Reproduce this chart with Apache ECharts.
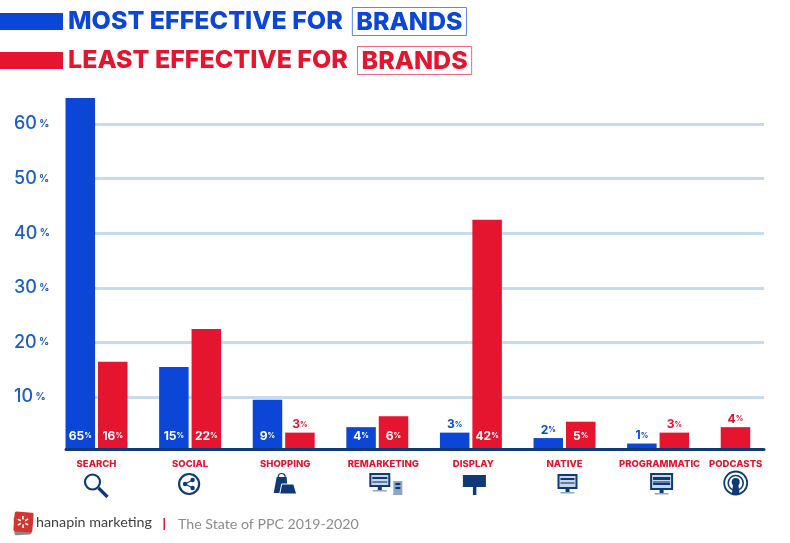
<!DOCTYPE html>
<html><head><meta charset="utf-8">
<style>html,body{margin:0;padding:0;background:#fff}#c{width:790px;height:543px}</style>
<script src="https://cdn.jsdelivr.net/npm/echarts@6/dist/echarts.min.js"></script>
</head><body><div id="c"></div>
<script>
const categories = ['SEARCH','SOCIAL','SHOPPING','REMARKETING','DISPLAY','NATIVE','PROGRAMMATIC','PODCASTS'];
const mostEffective = [65,15,9,4,3,2,1,null];
const leastEffective = [16,22,3,6,42,5,3,4];
const yTicks = [10,20,30,40,50,60];
const BLUE='#0b46d6', RED='#e5142f', NAVY='#0f3a75';
const INSIDE_MIN = 4; // labels of bars at least this tall sit inside, except the lone podcasts bar
const chart = echarts.init(document.getElementById('c'),null,{renderer:'canvas'});
const F='Inter, "Liberation Sans", sans-serif';

const labelRich={wn:{color:'#fff',fontFamily:F,fontWeight:700,fontSize:12},wp:{color:'#fff',fontFamily:F,fontWeight:700,fontSize:7.5},
  bn:{color:BLUE,fontFamily:F,fontWeight:700,fontSize:12},bp:{color:BLUE,fontFamily:F,fontWeight:700,fontSize:7.5},
  rn:{color:RED,fontFamily:F,fontWeight:700,fontSize:12},rp:{color:RED,fontFamily:F,fontWeight:700,fontSize:7.5}};
function labelFor(v,inside,key){
  const k=inside?'w':key;
  return {show:true,position:inside?'insideBottom':'top',distance:inside?7:2,rich:labelRich,formatter:`{${k}n|${v}}{${k}p|%}`};
}
const blueData = mostEffective.map((v,i)=>{
  if(v===null){ // lone bar occupies the first slot of its group, in the second colour
    const w=leastEffective[i];
    return {value:w,itemStyle:{color:RED},label:labelFor(w,false,'r')};
  }
  return {value:v,label:labelFor(v,v>=INSIDE_MIN,'b')};
});
const redData = leastEffective.map((v,i)=>{
  if(mostEffective[i]===null) return {value:null};
  return {value:v,label:labelFor(v,v>=INSIDE_MIN,'r')};
});

function legend(name,color,border,top){
  return {data:[{name}],left:0,top,padding:0,itemWidth:63,itemHeight:17,itemGap:0,icon:'rect',selectedMode:false,
    formatter:n=>`{t|${n}}  {b|BRANDS}`,
    textStyle:{rich:{
      t:{color,fontFamily:F,fontWeight:800,fontSize:25,padding:[0,3,0,0]},
      b:{color,fontFamily:F,fontWeight:800,fontSize:25,borderColor:border,borderWidth:1,padding:[2,4,1,4]}
    }}};
}

// Small horizontal nudges of individual category captions and icons
const captionShift={SHOPPING:1.5,REMARKETING:6,DISPLAY:2.5,PROGRAMMATIC:1.5,PODCASTS:-16};
const iconShift={REMARKETING:2,NATIVE:2,PROGRAMMATIC:3,PODCASTS:-16};
const captionRich={};
categories.forEach((c,i)=>{
  const s=captionShift[c]||0;
  captionRich['c'+i]={color:RED,fontFamily:F,fontWeight:800,fontSize:9.5,
    padding:[0,s<0?-2*s:0,0,s>0?2*s:0]};
});

chart.setOption({
  animation:false,backgroundColor:'#fff',
  legend:[legend('MOST EFFECTIVE FOR',BLUE,'#5f86e8',7),legend('LEAST EFFECTIVE FOR',RED,'#ee6a7c',46)],
  grid:[
    {left:66,right:26,top:124,bottom:91.4},
    {left:49.7,width:748.8,top:98,bottom:94,outerBoundsMode:'none'}
  ],
  xAxis:[
    {gridIndex:0,type:'value',min:0,max:1,offset:-2,z:5,splitLine:{show:false},axisTick:{show:false},axisLabel:{show:false},
     axisLine:{show:true,onZero:false,lineStyle:{color:NAVY,width:3}}},
    {gridIndex:1,type:'category',data:categories,axisLine:{show:false},axisTick:{show:false},
     axisLabel:{interval:0,margin:10.5,hideOverlap:false,
       formatter:(v,i)=>`{c${i}|${v}}`,rich:captionRich}}
  ],
  yAxis:[
    {gridIndex:0,type:'value',min:0,max:60,interval:10,
     axisLine:{show:false},axisTick:{show:false},
     splitLine:{show:true,showMinLine:false,lineStyle:{color:'#c5dbef',width:3}},
     axisLabel:{margin:52,align:'left',
       formatter:v=>yTicks.includes(v)?`{n|${v}}{p| %}`:'',
       rich:{n:{color:'#1c5fc4',fontFamily:F,fontSize:18,fontWeight:500},p:{color:'#1c5fc4',fontFamily:F,fontSize:10,fontWeight:700}}}},
    {gridIndex:1,type:'value',min:0,max:64.3,show:false}
  ],
  series:[
    {name:'MOST EFFECTIVE FOR',type:'bar',xAxisIndex:1,yAxisIndex:1,barWidth:29.5,barGap:'10%',itemStyle:{color:BLUE},data:blueData,z:3},
    {name:'LEAST EFFECTIVE FOR',type:'bar',xAxisIndex:1,yAxisIndex:1,barWidth:29.5,barGap:'10%',itemStyle:{color:RED},data:redData,z:3}
  ]
});

// Icon row and footer artwork
const ln=(x1,y1,x2,y2,w,c)=>({type:'line',shape:{x1,y1,x2,y2},style:{stroke:c||NAVY,lineWidth:w||2}});
const rc=(x,y,width,height,c)=>({type:'rect',shape:{x,y,width,height},style:{fill:c||NAVY}});
const ci=(cx,cy,r,w,fill)=>({type:'circle',shape:{cx,cy,r},style:fill?{fill:fill}:{fill:'none',stroke:NAVY,lineWidth:w||2}});
const screen=(x,y,w,h)=>[rc(x,y,w,h),rc(x+2,y+2,w-4,h-4,'#c9d6e6'),rc(x+3,y+4,w-6,2),rc(x+3,y+8,w-6,2,'#5f7fa8'),
  rc(x+w/2-2,y+h,4,3),rc(x+w/2-7,y+h+3,14,1.5,'#8ea6c4')];
const icons={
  SEARCH:[ci(-4,-2,7.5,2.2),ln(2,4,11,13,3.2)],
  SOCIAL:[ci(-1,0,10,2.2),ci(-5,0,2.2,0,NAVY),ci(2.5,-4,2.2,0,NAVY),ci(2.5,4,2.2,0,NAVY),ln(-5,0,2.5,-4,1.2),ln(-5,0,2.5,4,1.2)],
  SHOPPING:[{type:'polygon',shape:{points:[[-10,9],[-7,-7],[3,-7],[4,9]]},style:{fill:NAVY}},
    {type:'arc',shape:{cx:-2,cy:-7,r:3.5,startAngle:Math.PI,endAngle:0},style:{fill:'none',stroke:NAVY,lineWidth:1.2}},
    {type:'polygon',shape:{points:[[-4,10],[-2,0],[10,0],[13,10]]},style:{fill:NAVY,stroke:'#fff',lineWidth:1}}],
  REMARKETING:[...screen(-10,-11,21,14),rc(14,-3,9,14,'#8ea6c4'),rc(16,-1,5,2),rc(16,3,5,2)],
  DISPLAY:[rc(-8,-9,23,12),rc(2,3,3.5,8)],
  NATIVE:[...screen(-9,-10,20,15)],
  PROGRAMMATIC:[...screen(-11,-11,23,17),rc(-8,-6,17,2,'#0f3a75'),rc(-8,-1,17,2,'#0f3a75')],
  PODCASTS:[ci(0,-1,11.5,1.8),ci(0,-1,7.5,1.6),ci(0,-2,4,0,NAVY),{type:'polygon',shape:{points:[[-2.5,0],[2.5,0],[4,10],[-4,10]]},style:{fill:NAVY}}]
};
const gfx=categories.map((c,i)=>({type:'group',
  x:chart.convertToPixel({xAxisIndex:1},c)+(iconShift[c]||0),y:484,children:icons[c]}));
gfx.push(
  {type:'rect',shape:{x:14,y:516,width:17,height:19,r:2},rotation:0.06,originX:22,originY:525,style:{fill:'#8a8a8a'}},
  {type:'rect',shape:{x:14,y:512,width:19,height:20,r:2},rotation:-0.08,originX:23,originY:522,style:{fill:'#d5332f'}},
  ...[0,1,2,3,4,5].map(k=>{const a=k*Math.PI/3+0.5;return {type:'line',shape:{x1:23+2.5*Math.cos(a),y1:522+2.5*Math.sin(a),x2:23+6*Math.cos(a),y2:522+6*Math.sin(a)},style:{stroke:'#fff',lineWidth:1.6}};}),
  {type:'text',x:36,y:522,style:{text:'hanapin marketing',fill:'#3f3f3f',font:'400 14.3px Lato, sans-serif',textVerticalAlign:'middle'}},
  {type:'rect',shape:{x:163.5,y:518,width:1.5,height:12},style:{fill:RED}},
  {type:'text',x:178,y:524,style:{text:'The State of PPC 2019-2020',fill:'#8a8d90',font:'400 14.2px Lato, sans-serif',textVerticalAlign:'middle'}}
);
chart.setOption({graphic:gfx});
</script></body></html>
